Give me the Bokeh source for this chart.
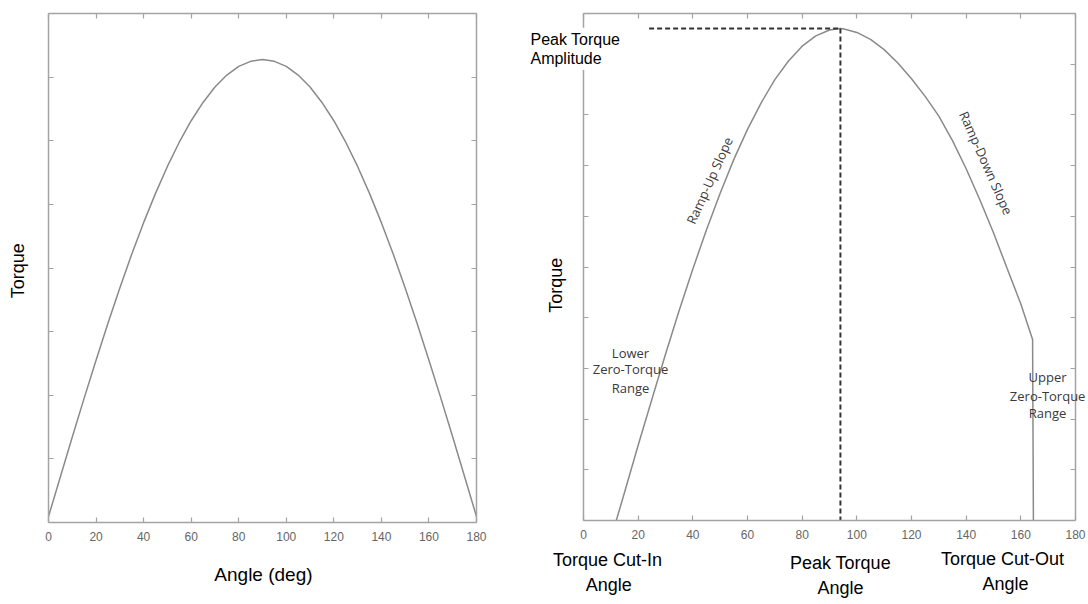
from bokeh.plotting import figure
from bokeh.models import Range1d, LinearAxis, FixedTicker, Label
from bokeh.layouts import row
from bokeh.embed import file_html
from bokeh.resources import INLINE

# ---------------- data ----------------
x_ticks = [0, 20, 40, 60, 80, 100, 120, 140, 160, 180]

angle_left = [0, 5, 10, 15, 20, 25, 30, 35, 40, 45, 50, 55, 60, 65, 70, 75, 80, 85, 90,
              95, 100, 105, 110, 115, 120, 125, 130, 135, 140, 145, 150, 155, 160, 165, 170, 175, 180]
torque_left = [0.0, 0.087, 0.174, 0.259, 0.342, 0.423, 0.5, 0.574, 0.643, 0.707, 0.766, 0.819, 0.866,
               0.906, 0.94, 0.966, 0.985, 0.996, 1.0,
               0.996, 0.985, 0.966, 0.94, 0.906, 0.866, 0.819, 0.766, 0.707, 0.643, 0.574, 0.5,
               0.423, 0.342, 0.259, 0.174, 0.087, 0.0]

angle_right = [12, 15, 20, 25, 30, 35, 40, 45, 50, 55, 60, 65, 70, 75, 80, 85, 90, 94,
               95, 100, 105, 110, 115, 120, 125, 130, 135, 140, 145, 150, 155, 160, 164.3, 164.6]
torque_right = [0.0, 0.057, 0.153, 0.246, 0.338, 0.427, 0.511, 0.591, 0.665, 0.734, 0.795, 0.849,
                0.896, 0.934, 0.964, 0.985, 0.997, 1.0,
                0.9995, 0.992, 0.978, 0.957, 0.93, 0.898, 0.862, 0.822, 0.772, 0.715, 0.652,
                0.585, 0.512, 0.44, 0.368, 0.0]

cut_in_angle = 12
peak_angle = 94
peak_amplitude = 1.0
cut_out_angle = 164.6
amp_line_start = 24

GRID = "#a3a3a3"
CURVE = "#8a8a8a"
TICKFONT = "Liberation Sans"
H = 602


def style(ax, labels):
    ax.axis_line_color = GRID
    ax.axis_line_width = 1.5
    ax.major_tick_line_color = GRID
    ax.major_tick_line_width = 1.2
    ax.major_tick_in = 5
    ax.major_tick_out = 0
    ax.minor_tick_in = 0
    ax.minor_tick_out = 0
    if labels:
        ax.major_label_text_font = TICKFONT
        ax.major_label_text_font_size = "12px"
        ax.major_label_text_color = "#666666"
        ax.major_label_standoff = 9
    else:
        ax.major_label_text_color = None
        ax.major_label_standoff = 0


def add_axes(p, xlo, xhi, ylo, yhi, yticks):
    for loc, fix in [("below", ylo), ("above", yhi)]:
        ax = LinearAxis(ticker=FixedTicker(ticks=x_ticks), fixed_location=fix, bounds=(xlo, xhi))
        style(ax, loc == "below")
        p.add_layout(ax, loc)
    for loc, fix in [("left", xlo), ("right", xhi)]:
        ax = LinearAxis(ticker=FixedTicker(ticks=yticks), fixed_location=fix, bounds=(ylo, yhi))
        style(ax, False)
        p.add_layout(ax, loc)


def base_fig(width, xr, yr):
    p = figure(width=width, height=H, x_range=Range1d(*xr), y_range=Range1d(*yr),
               output_backend="svg", toolbar_location=None,
               x_axis_location=None, y_axis_location=None,
               min_border_left=0, min_border_right=0, min_border_top=0, min_border_bottom=0)
    p.grid.grid_line_color = None
    p.outline_line_color = None
    p.background_fill_color = "white"
    p.border_fill_color = "white"
    return p


def lab(p, x, y, text, size, font="Liberation Sans", angle=0.0, color="black", align="center", bg=None):
    p.add_layout(Label(x=x, y=y, text=text, text_font=font, text_font_size=size,
                       text_align=align, text_baseline="middle", angle=angle, text_color=color,
                       background_fill_color=bg, padding=3 if bg else 0))


# ---------------- left plot ----------------
# pixel geometry: angle 0 -> x 48, 180 -> x 476; torque 0 -> y 516, 1 -> y 59
W1 = 524
sx1 = (476 - 48) / 180.0
sy1 = 516 - 59
ylo1, yhi1 = -(522 - 516) / sy1, (516 - 13) / sy1
p1 = base_fig(W1, (-48 / sx1, (W1 - 48) / sx1), ((516 - H) / sy1, 516 / sy1))
add_axes(p1, 0, 180, ylo1, yhi1, [ylo1 + k * (yhi1 - ylo1) / 8 for k in range(9)])
p1.line(angle_left, torque_left, line_color=CURVE, line_width=1.5)
lab(p1, -13.0, 0.538, "Torque", "18px", angle=1.5708)
lab(p1, 90.4, -0.127, "Angle (deg)", "19px")

# ---------------- right plot ----------------
# pixel geometry: angle 0 -> x 583, 180 -> x 1075; torque 0 -> y 520, 1 -> y 28
W2 = 1088 - W1
x0r = 583 - W1
sx2 = (1075 - 583) / 180.0
sy2 = 520 - 28
ylo2, yhi2 = 0.0, (520 - 13) / sy2
p2 = base_fig(W2, (-x0r / sx2, (W2 - x0r) / sx2), ((520 - H) / sy2, 520 / sy2))
add_axes(p2, 0, 180, ylo2, yhi2, [ylo2 + k * (yhi2 - ylo2) / 10 for k in range(11)])
p2.line(angle_right, torque_right, line_color=CURVE, line_width=1.5)
p2.line([amp_line_start, peak_angle], [peak_amplitude, peak_amplitude],
        line_color="#333333", line_width=2, line_dash="5 3")
p2.line([peak_angle, peak_angle], [peak_amplitude, 0],
        line_color="#333333", line_width=2, line_dash="5 3")

lab(p2, -9.9, 0.478, "Torque", "18px", angle=1.5708)
lab(p2, -20.5, 0.939, "Amplitude", "16px", align="left", bg="white")
lab(p2, -20.5, 0.978, "Peak Torque", "16px", align="left", bg="white")

lab(p2, 8.8, -0.081, "Torque Cut-In", "18px")
lab(p2, 9.2, -0.131, "Angle", "18px")
lab(p2, 94, -0.087, "Peak Torque", "18px")
lab(p2, 94, -0.137, "Angle", "18px")
lab(p2, 153.3, -0.079, "Torque Cut-Out", "18px")
lab(p2, 154.4, -0.129, "Angle", "18px")

AN = "Open Sans"
ANC = "#3a3a3a"
lab(p2, 17.2, 0.341, "Lower", "13px", font=AN, color=ANC)
lab(p2, 17.2, 0.307, "Zero-Torque", "13px", font=AN, color=ANC)
lab(p2, 17.2, 0.27, "Range", "13px", font=AN, color=ANC)
lab(p2, 169.8, 0.291, "Upper", "13px", font=AN, color=ANC)
lab(p2, 169.8, 0.254, "Zero-Torque", "13px", font=AN, color=ANC)
lab(p2, 169.8, 0.218, "Range", "13px", font=AN, color=ANC)
lab(p2, 46.1, 0.691, "Ramp-Up Slope", "13px", font=AN, color=ANC, angle=1.147)
lab(p2, 147.3, 0.727, "Ramp-Down Slope", "13px", font=AN, color=ANC, angle=-1.152)

layout = row(p1, p2)
open("out.html", "w").write(file_html(layout, INLINE))
